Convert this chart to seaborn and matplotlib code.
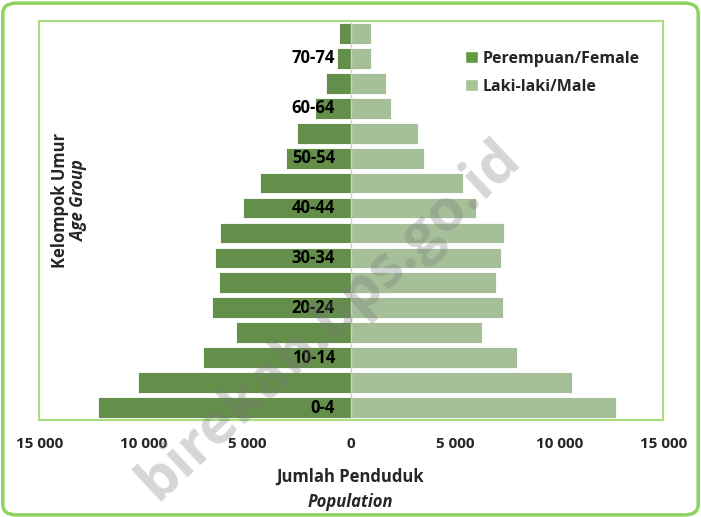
import matplotlib
matplotlib.use('Agg')
import matplotlib.pyplot as plt
import seaborn as sns
import pandas as pd
from matplotlib.patches import FancyBboxPatch, Patch
from matplotlib.ticker import FuncFormatter

# --- DATA --- #
age_groups = ['0-4', '5-9', '10-14', '15-19', '20-24', '25-29', '30-34', '35-39',
              '40-44', '45-49', '50-54', '55-59', '60-64', '65-69', '70-74', '75+']
female = [12170, 10260, 7120, 5550, 6700, 6345, 6550, 6310,
          5180, 4400, 3155, 2590, 1750, 1200, 665, 570]
male = [12735, 10600, 7980, 6310, 7315, 6975, 7185, 7350,
        6000, 5390, 3500, 3190, 1890, 1650, 955, 955]
shown_labels = ['0-4', '10-14', '20-24', '30-34', '40-44', '50-54', '60-64', '70-74']
x_ticks = [-15000, -10000, -5000, 0, 5000, 10000, 15000]

female_label = 'Perempuan/Female'
male_label = 'Laki-laki/Male'
dark_green = '#619a3f'
light_green = '#a3c591'
frame_green = '#a8dc7c'

sns.set_theme(style='white')
plt.rcParams['font.family'] = ['Open Sans', 'DejaVu Sans']

# long format, female on the left
df = pd.DataFrame({
    'age': age_groups * 2,
    'value': [-v for v in female] + male,
    'sex': [female_label] * len(female) + [male_label] * len(male),
})
order = age_groups[::-1]

fig = plt.figure(figsize=(7.01, 5.17), dpi=100)
ax = fig.add_axes([0.056, 0.1876, 0.89, 0.7718])

sns.barplot(data=df, y='age', x='value', hue='sex', order=order, dodge=False,
            palette={female_label: dark_green, male_label: light_green},
            width=0.83, edgecolor='white', linewidth=0.6, ax=ax, legend=False)

ax.set_xlim(-15000, 15000)
ax.set_ylim(len(order) - 0.5, -0.5)
ax.axvline(0, color='#cfcfcf', lw=1, zorder=3)

# age labels inside the plot, every other group
for i, age in enumerate(order):
    if age in shown_labels:
        ax.text(-780, i, age, ha='right', va='center', fontsize=12,
                fontweight='bold', color='black', zorder=4)

ax.set_yticks([])
ax.set_ylabel('')
ax.set_xticks(x_ticks)
ax.xaxis.set_major_formatter(FuncFormatter(lambda v, p: f'{abs(int(v)):,}'.replace(',', ' ')))
ax.tick_params(axis='x', length=0, pad=12, labelsize=11)
for lab in ax.get_xticklabels():
    lab.set_fontweight('bold')
ax.set_xlabel('')

for sp in ax.spines.values():
    sp.set_color(frame_green)
    sp.set_linewidth(1.5)

# axis titles
fig.text(0.5, 0.077, 'Jumlah Penduduk', ha='center', va='center',
         fontsize=12, fontweight='bold')
fig.text(0.5, 0.029, 'Population', ha='center', va='center',
         fontsize=12, fontweight='bold', style='italic')
fig.text(0.085, 0.613, 'Kelompok Umur', ha='center', va='center', rotation=90,
         fontsize=12, fontweight='bold')
fig.text(0.112, 0.613, 'Age Group', ha='center', va='center', rotation=90,
         fontsize=12, fontweight='bold', style='italic')

handles = [Patch(facecolor=dark_green, label=female_label),
           Patch(facecolor=light_green, label=male_label)]
leg = ax.legend(handles=handles, loc='upper left', bbox_to_anchor=(0.66, 0.962),
                frameon=False, handlelength=0.78, handleheight=0.78, handletextpad=0.3,
                labelspacing=0.75, prop={'weight': 'bold', 'size': 11.5})

# watermark
fig.text(0.47, 0.38, 'birekab.bps.go.id', ha='center', va='center', rotation=43,
         fontsize=42, fontweight='bold', color='#777777', alpha=0.3, zorder=10)

# rounded outer border
border = FancyBboxPatch((0.004, 0.004), 0.992, 0.99, boxstyle='round,pad=0,rounding_size=0.02',
                        transform=fig.transFigure, fill=False, edgecolor='#8fd35e',
                        linewidth=2.5, zorder=0)
fig.patches.append(border)

fig.savefig('out.png', dpi=100)
